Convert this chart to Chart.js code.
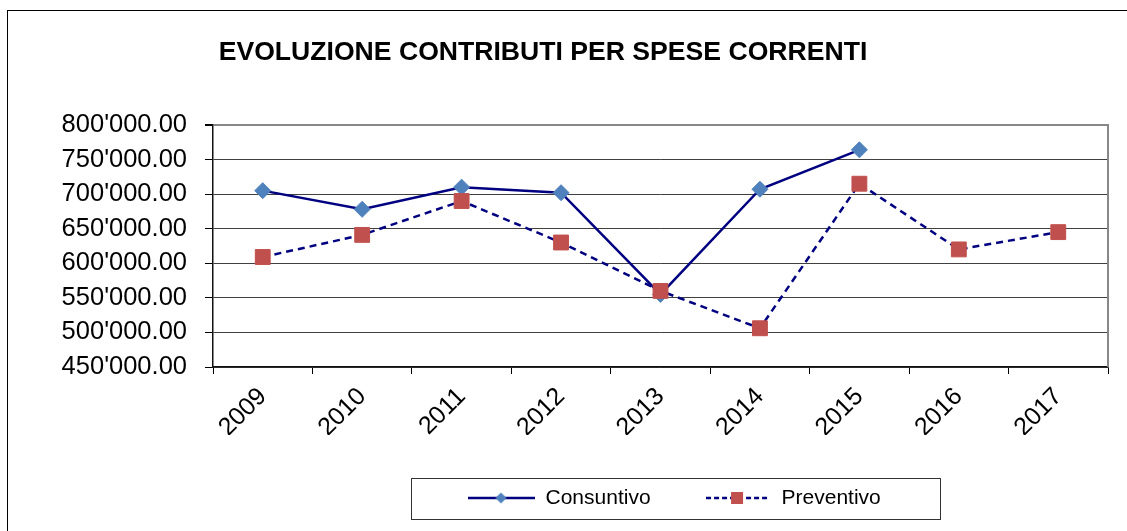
<!DOCTYPE html>
<html>
<head>
<meta charset="utf-8">
<title>Evoluzione contributi per spese correnti</title>
<script src="https://cdn.jsdelivr.net/npm/chart.js@4.4.1/dist/chart.umd.min.js"></script>
<style>
  html, body { margin: 0; padding: 0; background: #fff; }
  canvas { display: block; }
</style>
</head>
<body>
<canvas id="chart" width="1127" height="531"></canvas>
<script>
// data
const years = ["2009", "2010", "2011", "2012", "2013", "2014", "2015", "2016", "2017"];
const consuntivo = [705000, 678000, 710000, 702000, 555000, 707000, 764000, null, null];
const preventivo = [609000, 641000, 690000, 630000, 560000, 506000, 715000, 620000, 645000];
const yTicks = [450000, 500000, 550000, 600000, 650000, 700000, 750000, 800000];

const FONT = "'Liberation Sans', Arial, sans-serif";

// 800000 -> 800'000.00
const fmt = v => String(v).replace(/\B(?=(\d{3})+(?!\d))/g, "'") + ".00";

// little line+marker pictures for the legend
function legendSample(w, dashed, marker) {
  const c = document.createElement("canvas");
  c.width = w;
  c.height = 16;
  const g = c.getContext("2d");
  g.strokeStyle = "#000080";
  g.lineWidth = 2.5;
  if (dashed) g.setLineDash([5, 3]);
  g.beginPath();
  g.moveTo(0, 8);
  g.lineTo(w, 8);
  g.stroke();
  marker(g, w / 2, 8);
  return c;
}
const diamond = (g, x, y) => {
  g.fillStyle = "#4F81BD";
  g.beginPath();
  g.moveTo(x, y - 5.5);
  g.lineTo(x + 5.5, y);
  g.lineTo(x, y + 5.5);
  g.lineTo(x - 5.5, y);
  g.closePath();
  g.fill();
};
const square = (g, x, y) => {
  g.fillStyle = "#C0504D";
  g.fillRect(x - 6, y - 6, 12, 12);
};
const samples = [legendSample(67, false, diamond), legendSample(62, true, square)];

// border, frame, legend box, and nudging title/legend where they sit in the picture
const frame = {
  id: "frame",
  afterLayout(chart) {
    const t = chart.titleBlock;
    const dx = 543 - (t.left + t.right) / 2;
    t.left += dx;
    t.right += dx;

    const lg = chart.legend;
    const pad = lg.options.labels.padding;
    const first = (lg.left + pad + lg.right - lg.lineWidths[0]) / 2;
    const sx = 467 - first;
    lg.left += sx;
    lg.right += sx;
  },
  beforeDraw(chart) {
    const ctx = chart.ctx;
    ctx.save();
    ctx.strokeStyle = "#000";
    ctx.lineWidth = 1;
    ctx.strokeRect(7.5, 10.5, chart.width + 20, chart.height + 20);
    ctx.restore();
  },
  beforeDatasetsDraw(chart) {
    const { ctx, chartArea: a } = chart;
    ctx.save();
    ctx.strokeStyle = "#888";
    ctx.lineWidth = 2;
    ctx.beginPath();
    ctx.moveTo(a.right, a.top - 1);
    ctx.lineTo(a.right, a.bottom);
    ctx.stroke();
    ctx.restore();
  },
  afterDraw(chart) {
    const { ctx } = chart;
    const hb = chart.legend.legendHitBoxes;
    if (!hb || !hb.length) return;
    const last = hb[hb.length - 1];
    const left = Math.round(hb[0].left - 56) + 0.5;
    const right = Math.round(last.left + last.width + 59) + 0.5;
    const top = Math.round(hb[0].top - 10) + 0.5;
    const bottom = Math.round(hb[0].top + hb[0].height + 10) + 0.5;
    ctx.save();
    ctx.strokeStyle = "#333";
    ctx.lineWidth = 1;
    ctx.strokeRect(left, top, right - left, bottom - top);
    ctx.restore();
  }
};

const config = {
  type: "line",
  data: {
    labels: years,
    datasets: [
      {
        label: "Consuntivo",
        data: consuntivo,
        borderColor: "#000080",
        borderWidth: 2.5,
        pointStyle: "rectRot",
        pointRadius: 8,
        pointBackgroundColor: "#4F81BD",
        pointBorderColor: "#4F81BD",
        pointBorderWidth: 1,
        spanGaps: false,
        order: 1,
      },
      {
        label: "Preventivo",
        data: preventivo,
        borderColor: "#000080",
        borderWidth: 2.5,
        borderDash: [7, 5],
        pointStyle: "rect",
        pointRadius: 10.5,
        pointBackgroundColor: "#C0504D",
        pointBorderColor: "#C0504D",
        pointBorderWidth: 1,
        order: 0,
      },
    ],
  },
  options: {
    responsive: false,
    animation: false,
    devicePixelRatio: 1,
    elements: { line: { tension: 0 } },
    layout: {
      padding: { left: 0, right: 19, top: 0, bottom: 12.5 },
    },
    scales: {
      x: {
        offset: true,
        grid: {
          offset: true,
          drawOnChartArea: false,
          tickLength: 7,
          color: "#000",
          tickColor: "#000",
        },
        border: { color: "#111", width: 1.5 },
        ticks: {
          autoSkip: false,
          minRotation: 45,
          maxRotation: 45,
          padding: 8,
          color: "#000",
          font: { family: FONT, size: 25 },
        },
        afterFit: scale => { scale.height = 68; },
      },
      y: {
        min: yTicks[0],
        max: yTicks[yTicks.length - 1],
        ticks: {
          stepSize: yTicks[1] - yTicks[0],
          padding: 18,
          color: "#000",
          font: { family: FONT, size: 25.5 },
          callback: v => fmt(v),
        },
        grid: {
          color: c => (c.tick && c.tick.value === yTicks[yTicks.length - 1] ? "#888" : "#404040"),
          lineWidth: c => (c.tick && c.tick.value === yTicks[yTicks.length - 1] ? 2 : 1),
          tickLength: 8,
          tickColor: "#000",
        },
        border: { color: "#111", width: 1.5 },
        afterFit: scale => { scale.width = 213; },
      },
    },
    plugins: {
      title: {
        display: true,
        text: "EVOLUZIONE CONTRIBUTI PER SPESE CORRENTI",
        color: "#000",
        font: { family: FONT, size: 26.6, weight: "bold" },
        padding: { top: 37, bottom: 56 },
      },
      legend: {
        position: "bottom",
        labels: {
          usePointStyle: true,
          pointStyleWidth: 68,
          padding: 52.5,
          color: "#000",
          font: { family: FONT, size: 21 },
          generateLabels: chart =>
            chart.data.datasets.map((ds, i) => ({
              text: ds.label,
              datasetIndex: i,
              pointStyle: samples[i],
              fillStyle: "transparent",
              strokeStyle: "transparent",
              lineWidth: 0,
              hidden: false,
            })),
        },
      },
      tooltip: { enabled: false },
    },
  },
  plugins: [frame],
};

new Chart(document.getElementById("chart"), config);
</script>
</body>
</html>
